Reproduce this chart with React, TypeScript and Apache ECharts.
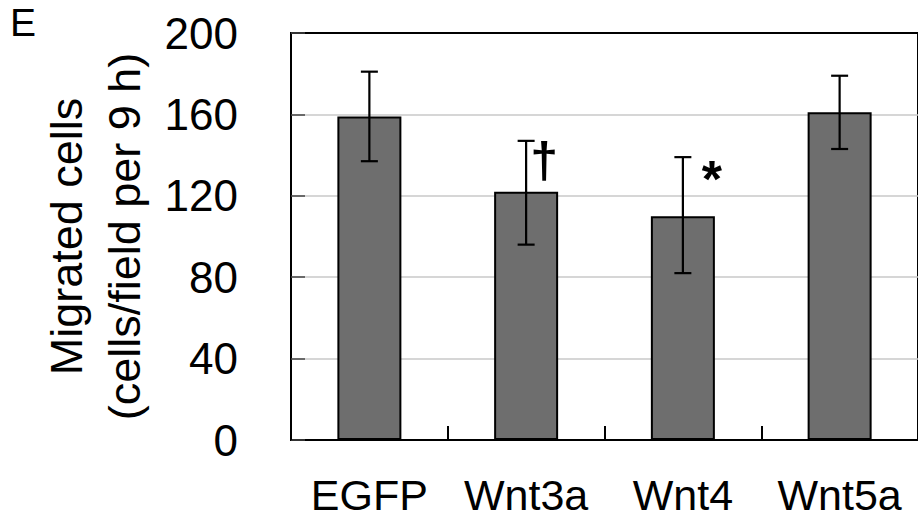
import React, { useEffect, useRef } from "react";
import * as echarts from "echarts";

const categories = ["EGFP", "Wnt3a", "Wnt4", "Wnt5a"];
const means = [159, 122, 110, 161];
const errLow = [137, 96, 82, 143];
const errHigh = [181, 147, 139, 179];
const marks = ["", "\u2020", "*", ""];
const yTicks = { min: 0, max: 200, interval: 40 };

const FONT = "'Liberation Sans', Arial, Helvetica, sans-serif";

export default function App() {
  const ref = useRef<HTMLDivElement>(null);
  useEffect(() => {
    if (!ref.current) return;
    const chart = echarts.init(ref.current, null, { renderer: "svg" });
    const errData = categories.map((_, i) => [i, errLow[i], errHigh[i]]);
    chart.setOption({
      animation: false,
      backgroundColor: "#ffffff",
      textStyle: { fontFamily: FONT },
      title: {
        text: "E",
        left: 10,
        top: 3,
        padding: 0,
        textStyle: { fontSize: 39, fontWeight: "normal", color: "#000", fontFamily: FONT },
      },
      grid: {
        left: 291,
        top: 33,
        width: 640,
        height: 407,
        show: true,
        borderColor: "#000",
        borderWidth: 2,
        backgroundColor: "transparent",
      },
      xAxis: {
        type: "category",
        data: categories,
        axisLine: { show: true, lineStyle: { color: "#000", width: 2 } },
        axisTick: { show: true, interval: 0, inside: true, length: 14, lineStyle: { color: "#000", width: 2 } },
        axisLabel: { color: "#000", interval: 0, fontSize: 43, margin: 33, fontFamily: FONT },
        splitLine: { show: false },
      },
      yAxis: {
        type: "value",
        min: yTicks.min,
        max: yTicks.max,
        interval: yTicks.interval,
        name: "Migrated cells\n(cells/field per 9 h)",
        nameLocation: "middle",
        nameGap: 137,
        nameRotate: 90,
        nameTextStyle: { color: "#000", fontSize: 45, lineHeight: 58, fontFamily: FONT },
        axisLine: { show: true, lineStyle: { color: "#000", width: 2 } },
        axisTick: { show: true, inside: true, length: 14, lineStyle: { color: "#444", width: 1.5 } },
        axisLabel: { color: "#000", fontSize: 44, margin: 53, fontFamily: FONT },
        splitLine: { show: true, showMaxLine: false, showMinLine: false, lineStyle: { color: "#c8c8c8", width: 1.5 } },
      },
      series: [
        {
          type: "bar",
          data: means,
          barWidth: 64,
          itemStyle: { color: "#6e6e6e", borderColor: "#000", borderWidth: 2 },
          z: 2,
        },
        {
          type: "custom",
          data: errData,
          z: 5,
          encode: { x: 0, y: [1, 2] },
          renderItem: (params: any, api: any) => {
            const xi = api.value(0);
            const lo = api.coord([xi, api.value(1)]);
            const hi = api.coord([xi, api.value(2)]);
            const cap = 8.5;
            const ls = { stroke: "#000", lineWidth: 2.2 };
            const children: any[] = [
              { type: "line", shape: { x1: lo[0], y1: lo[1], x2: hi[0], y2: hi[1] }, style: ls },
              { type: "line", shape: { x1: lo[0] - cap, y1: lo[1], x2: lo[0] + cap, y2: lo[1] }, style: ls },
              { type: "line", shape: { x1: hi[0] - cap, y1: hi[1], x2: hi[0] + cap, y2: hi[1] }, style: ls },
            ];
            const m = marks[params.dataIndex];
            if (m === "\u2020") {
              children.push({
                type: "text",
                x: hi[0] + 18,
                y: hi[1] - 6,
                style: { text: m, fontSize: 50, fontWeight: "bold", fontFamily: FONT, fill: "#000", align: "center", verticalAlign: "top" },
              });
            } else if (m === "*") {
              children.push({
                type: "text",
                x: hi[0] + 29,
                y: hi[1] - 4,
                style: { text: m, fontSize: 52, fontWeight: "bold", fontFamily: FONT, fill: "#000", align: "center", verticalAlign: "top" },
              });
            }
            return { type: "group", children };
          },
        },
      ],
    });
    return () => chart.dispose();
  }, []);
  return (
    <div
      ref={ref}
      style={{ position: "fixed", left: 0, top: 0, width: 918, height: 518, background: "#fff" }}
    />
  );
}
